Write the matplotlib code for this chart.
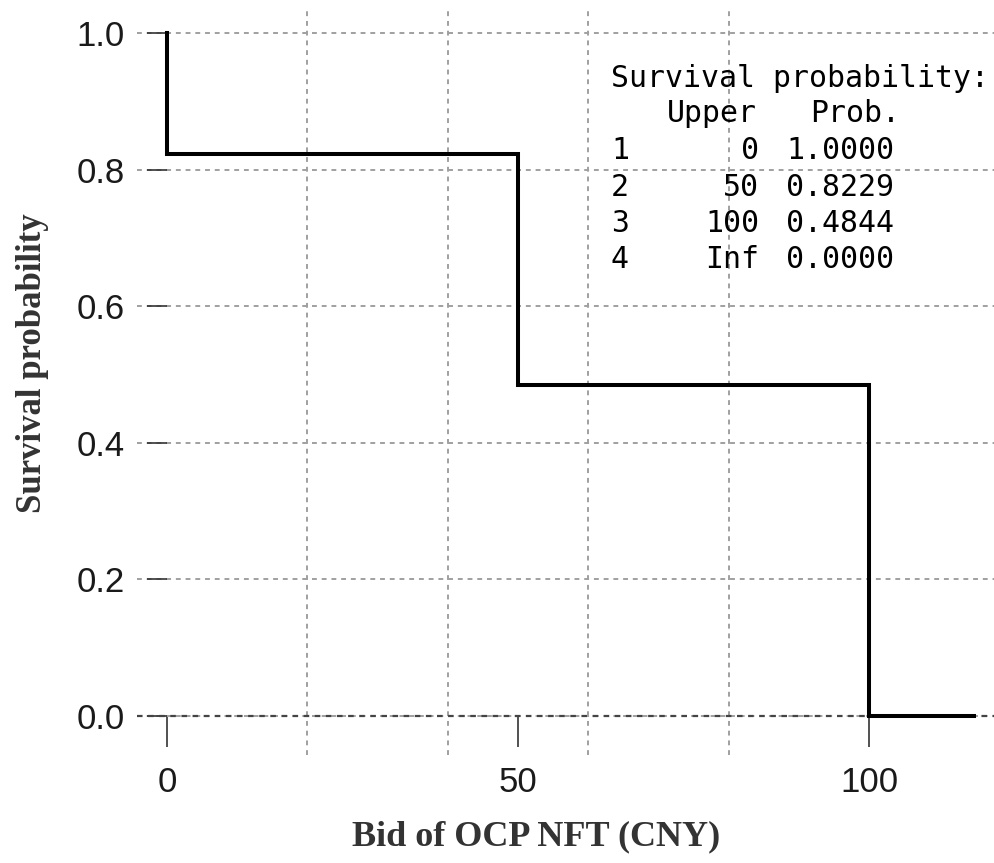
import matplotlib
matplotlib.use("Agg")
import matplotlib.pyplot as plt
from matplotlib.ticker import FixedLocator

# survival table (interval upper bounds and estimated probabilities)
row_ids = ["1", "2", "3", "4"]
upper_labels = ["0", "50", "100", "Inf"]
surv_prob = [1.0, 0.8229, 0.4844, 0.0]
bid_breaks = [0, 50, 100]
bid_end = 115

x_ticks = [0, 50, 100]
x_grid = [0, 20, 40, 60, 80, 100]
y_ticks = [0.0, 0.2, 0.4, 0.6, 0.8, 1.0]

W, H = 995, 863


def px(x, y):
    return x / W, 1 - y / H


fig = plt.figure(figsize=(W / 100, H / 100), dpi=100)
ax = fig.add_axes([137 / W, 108 / H, (995 - 137) / W, (755 - 10) / H])

step_x = [bid_breaks[0]] + bid_breaks + [bid_end]
step_y = surv_prob + [surv_prob[-1]]
ax.step(step_x, step_y, where="post", color="black", lw=2.9, zorder=3,
        solid_joinstyle="miter")

ax.set_xlim(-4.27, 117.95)
ax.set_ylim(-0.0571, 1.0337)

grid_style = dict(color="#a0a0a0", lw=1.4, ls=(0, (2.5, 2.5)))
ax.xaxis.set_major_locator(FixedLocator(x_ticks))
ax.xaxis.set_minor_locator(FixedLocator(x_grid))
ax.xaxis.grid(True, which="minor", **grid_style)
ax.set_yticks(y_ticks)
ax.yaxis.grid(True, which="major", **grid_style)
ax.axhline(0, color="#444444", lw=1.6, ls=(0, (2.5, 2.5)), zorder=2)
ax.set_axisbelow(True)

for s in ax.spines.values():
    s.set_visible(False)
ax.spines["left"].set_position(("data", 0))
ax.spines["bottom"].set_position(("data", 0))

tick_font = dict(family="Liberation Sans", size=25)
ax.set_xticklabels([str(t) for t in x_ticks], **tick_font, color="#1a1a1a")
ax.set_yticklabels([f"{t:.1f}" for t in y_ticks], **tick_font, color="#1a1a1a")
ax.tick_params(axis="x", which="major", direction="out", length=22, width=1.2,
               pad=14, color="#333333")
ax.tick_params(axis="x", which="minor", length=0)
ax.tick_params(axis="y", direction="out", length=14.4, width=1.2,
               pad=16, color="#333333")

# axis titles
fig.text(*px(33, 363), "Survival probability", rotation=90, ha="center",
         va="center", family="Liberation Serif", weight="bold", size=25,
         color="#333333")
fig.text(*px(536, 837), "Bid of OCP NFT (CNY)", ha="center", va="center",
         family="Liberation Serif", weight="bold", size=26, color="#333333")

# printed survival table
mono = dict(family="DejaVu Sans Mono", size=21.5, color="black", va="baseline")
fig.text(*px(611, 87), "Survival probability:", ha="left", **mono)
fig.text(*px(757, 122), "Upper", ha="right", **mono)
fig.text(*px(900, 122), "Prob.", ha="right", **mono)
row_baselines = [159, 196, 232, 268]
for rid, up, p, yb in zip(row_ids, upper_labels, surv_prob, row_baselines):
    fig.text(*px(611, yb), rid, ha="left", **mono)
    fig.text(*px(759, yb), up, ha="right", **mono)
    fig.text(*px(840, yb), f"{p:.4f}", ha="center", **mono)

fig.savefig("out.png", dpi=100)
